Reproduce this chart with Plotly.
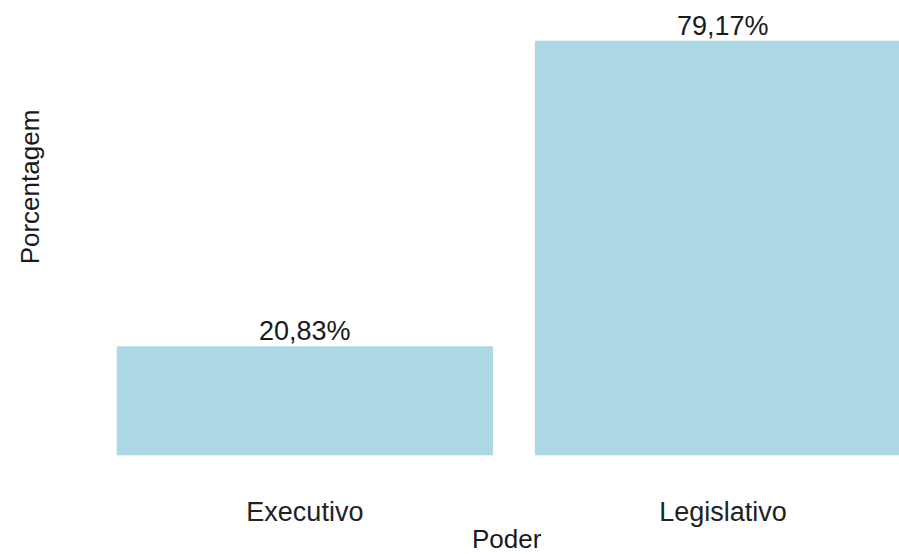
import plotly.graph_objects as go

categories = ["Executivo", "Legislativo"]
values = [20.83, 79.17]
labels = ["20,83%", "79,17%"]

FONT = "Liberation Sans, Arial, sans-serif"
BAR_COLOR = "#ADD8E6"
FS = 27

fig = go.Figure()
fig.add_trace(go.Bar(
    x=categories, y=values, width=0.9,
    marker=dict(color=BAR_COLOR, line=dict(width=0)),
    hoverinfo="skip",
))

for c, v, t in zip(categories, values, labels):
    fig.add_annotation(x=c, y=v, xref="x", yref="y", text=t, showarrow=False,
                       yanchor="bottom", yshift=-2,
                       font=dict(family=FONT, size=FS, color="#1a1a1a"))

fig.add_annotation(text="Poder", xref="paper", yref="paper", x=0.536, y=-0.138,
                   xanchor="center", yanchor="middle", showarrow=False,
                   font=dict(family=FONT, size=FS - 1, color="#1a1a1a"))
fig.add_annotation(text="Porcentagem", xref="paper", yref="paper", x=-0.0284, y=0.633,
                   xanchor="center", yanchor="middle", textangle=-90, showarrow=False,
                   font=dict(family=FONT, size=FS - 1, color="#1a1a1a"))

ymax = max(values)
fig.update_layout(
    width=899, height=554,
    margin=dict(l=54, r=0, t=20, b=78),
    paper_bgcolor="white", plot_bgcolor="white",
    showlegend=False,
    bargap=0.1,
    xaxis=dict(type="category", range=[-0.6, 1.421], showgrid=False, zeroline=False,
               showline=False, ticks="outside", ticklen=12, tickcolor="rgba(0,0,0,0)",
               tickfont=dict(family=FONT, size=FS, color="#222222")),
    yaxis=dict(range=[-0.05 * ymax, 1.05 * ymax], showgrid=False, zeroline=False,
               showline=False, showticklabels=False, ticks=""),
)

fig.write_html("out.html", config={"displayModeBar": False},
               post_script="document.body.style.margin='0';document.body.style.padding='0';document.body.style.overflow='hidden';")
